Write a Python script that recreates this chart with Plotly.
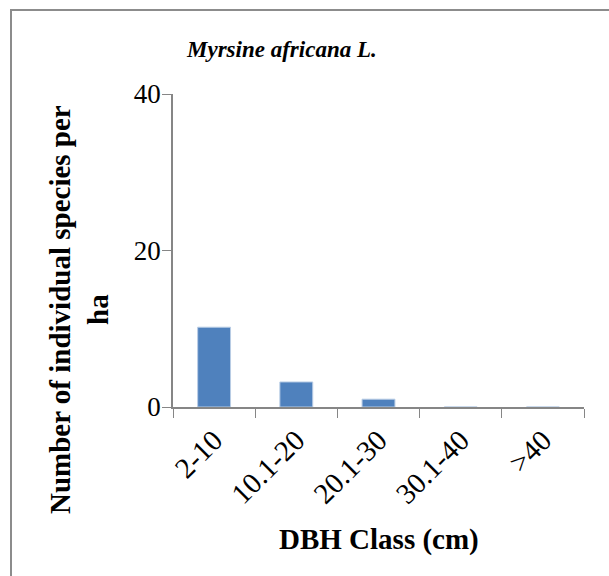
import plotly.graph_objects as go

# DBH class distribution for Myrsine africana L.
classes = ["2-10", "10.1-20", "20.1-30", "30.1-40", ">40"]
density = [10.2, 3.2, 1.0, 0, 0]

W, H = 609, 576
L, R, T, B = 173, 25, 94, 169
pw, ph = W - L - R, H - T - B


def px_x(x):
    return (x - L) / pw


def px_y(y):
    return (H - B - y) / ph


font_family = "Liberation Serif, Times New Roman, serif"

fig = go.Figure(
    go.Bar(
        x=classes,
        y=density,
        width=0.4,
        marker=dict(color="#4F81BD", line=dict(color="#B9CDE5", width=1)),
    )
)

fig.update_layout(
    width=W,
    height=H,
    margin=dict(l=L, r=R, t=T, b=B),
    plot_bgcolor="white",
    paper_bgcolor="white",
    showlegend=False,
    font=dict(family=font_family, color="black"),
    shapes=[
        dict(
            type="rect", xref="paper", yref="paper",
            x0=px_x(11), x1=px_x(W + 20), y0=px_y(H + 20), y1=px_y(10),
            line=dict(color="#8C8C8C", width=2), layer="below",
        )
    ],
    annotations=[
        dict(
            text="<b><i>Myrsine africana L.</i></b>",
            xref="paper", yref="paper", x=px_x(281), y=px_y(50),
            showarrow=False, font=dict(size=23), xanchor="center", yanchor="middle",
        ),
        dict(
            text="<b>DBH Class (cm)</b>",
            xref="paper", yref="paper", x=px_x(379), y=px_y(539),
            showarrow=False, font=dict(size=29), xanchor="center", yanchor="middle",
        ),
        dict(
            text="<b>Number of individual species per<br>ha</b>",
            xref="paper", yref="paper", x=px_x(79), y=px_y(310),
            showarrow=False, font=dict(size=29), textangle=-90,
            xanchor="center", yanchor="middle",
        ),
    ],
)

fig.update_xaxes(
    type="category",
    showline=True, linecolor="#868686", linewidth=1.5,
    ticks="outside", tickson="boundaries", ticklen=9, tickcolor="#868686",
    tickangle=-45, tickfont=dict(size=29), ticklabelstandoff=3,
    showgrid=False, zeroline=False,
)
fig.update_yaxes(
    range=[0, 40], dtick=20,
    showline=True, linecolor="#868686", linewidth=1.5,
    ticks="outside", ticklen=9, tickcolor="#868686",
    tickfont=dict(size=27), ticklabelstandoff=-4,
    showgrid=False, zeroline=False,
)

# drop the page's default body margin so the figure sits at the window origin
fig.write_html(
    "out.html",
    config={"displayModeBar": False},
    post_script="document.body.style.margin='0';",
)
